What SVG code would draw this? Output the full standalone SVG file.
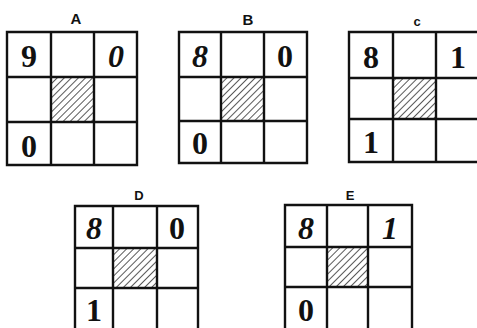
<svg xmlns="http://www.w3.org/2000/svg" width="477" height="328" viewBox="0 0 477 328">
<style>
.g{fill:none;stroke:#111;stroke-width:2.4}
.lab{font-family:"Liberation Sans",Arial,sans-serif;font-weight:bold;font-size:15px;text-anchor:middle;fill:#111}
.d{font-family:"Liberation Serif","Times New Roman",serif;font-size:32px;font-weight:bold;text-anchor:middle;fill:#111}
.i{font-style:italic}
.h{fill:url(#hatch);stroke:#111;stroke-width:1}
</style>
<defs>
<pattern id="hatch" width="5" height="5" patternUnits="userSpaceOnUse" patternTransform="rotate(45)">
<line x1="0" y1="0" x2="0" y2="5" stroke="#111" stroke-width="1.4"/>
</pattern>
</defs>
<g id="A">
<text class="lab" x="76" y="24">A</text>
<rect class="h" x="51" y="77" width="43" height="45"/>
<path class="g" d="M7,32H137V165H7Z M51,32V165 M94,32V165 M7,77H137 M7,122H137"/>
<text class="d" x="29" y="67">9</text>
<text class="d i" x="116" y="67">0</text>
<text class="d" x="29" y="157">0</text>
</g>
<g id="B">
<text class="lab" x="248" y="25">B</text>
<rect class="h" x="221" y="77" width="43" height="44"/>
<path class="g" d="M179,32H307V163H179Z M221,32V163 M264,32V163 M179,77H307 M179,121H307"/>
<text class="d i" x="200" y="67">8</text>
<text class="d" x="285" y="67">0</text>
<text class="d" x="200" y="154">0</text>
</g>
<g id="C">
<text class="lab" x="417" y="26" style="font-size:13px">c</text>
<rect class="h" x="393" y="78" width="43" height="41"/>
<path class="g" d="M479,32H349V162H479 M393,32V162 M436,32V162 M349,78H479 M349,119H479"/>
<text class="d" x="371" y="68">8</text>
<text class="d" x="458" y="68">1</text>
<text class="d" x="371" y="153">1</text>
</g>
<g id="D">
<text class="lab" x="139" y="200" style="font-size:13px">D</text>
<rect class="h" x="113" y="248" width="44" height="40"/>
<path class="g" d="M75,331V206H198V331 M113,206V331 M157,206V331 M75,248H198 M75,288H198"/>
<text class="d i" x="94" y="239">8</text>
<text class="d" x="177" y="239">0</text>
<text class="d" x="94" y="321">1</text>
</g>
<g id="E">
<text class="lab" x="350" y="200" style="font-size:13px">E</text>
<rect class="h" x="327" y="247" width="41" height="40"/>
<path class="g" d="M285,331V205H412V331 M327,205V331 M368,205V331 M285,247H412 M285,287H412"/>
<text class="d i" x="306" y="239">8</text>
<text class="d i" x="390" y="239">1</text>
<text class="d" x="306" y="321">0</text>
</g>
</svg>
